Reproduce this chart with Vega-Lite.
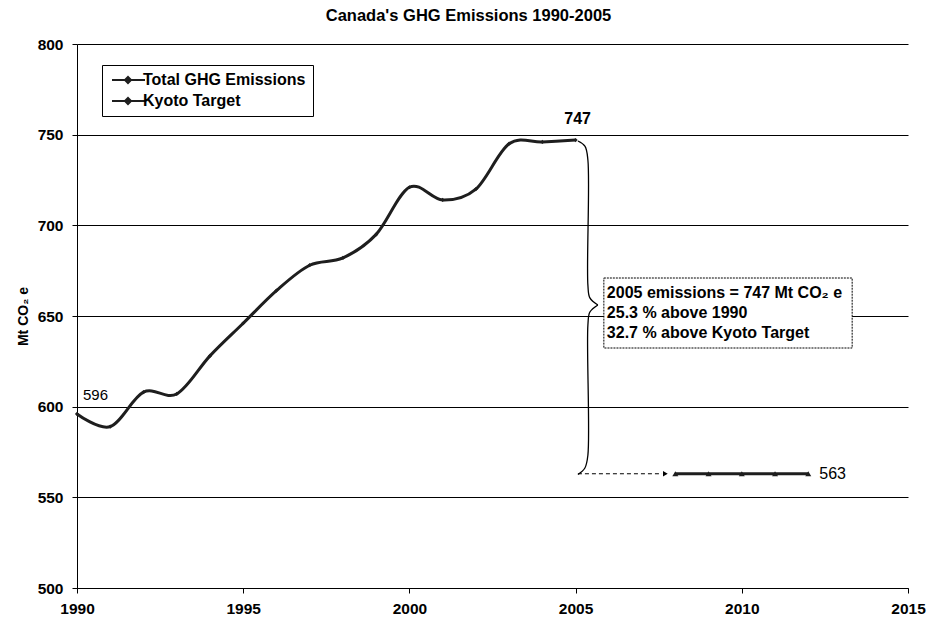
{
  "$schema": "https://vega.github.io/schema/vega-lite/v6.json",
  "width": 831,
  "height": 544,
  "autosize": "none",
  "padding": {"left": 77, "top": 44, "right": 21, "bottom": 33},
  "background": "white",
  "config": {
    "font": "Liberation Sans",
    "view": {"stroke": null},
    "axis": {
      "domainColor": "black",
      "tickColor": "black",
      "gridColor": "black",
      "gridWidth": 1,
      "gridOpacity": 1,
      "labelColor": "black",
      "labelFont": "Liberation Sans",
      "labelFontWeight": "bold",
      "labelFontSize": 15.5,
      "tickSize": 5,
      "titleColor": "black",
      "titleFont": "Liberation Sans"
    }
  },
  "title": {
    "text": "Canada's GHG Emissions 1990-2005",
    "font": "Liberation Sans",
    "fontSize": 16.5,
    "fontWeight": "bold",
    "color": "black",
    "anchor": "middle",
    "dx": -24,
    "offset": 13
  },
  "datasets": {
    "ghg": [
      {"year": 1990, "value": 596, "series": "Total GHG Emissions"},
      {"year": 1991, "value": 589, "series": "Total GHG Emissions"},
      {"year": 1992, "value": 608, "series": "Total GHG Emissions"},
      {"year": 1993, "value": 607, "series": "Total GHG Emissions"},
      {"year": 1994, "value": 628, "series": "Total GHG Emissions"},
      {"year": 1995, "value": 646, "series": "Total GHG Emissions"},
      {"year": 1996, "value": 664, "series": "Total GHG Emissions"},
      {"year": 1997, "value": 678, "series": "Total GHG Emissions"},
      {"year": 1998, "value": 682, "series": "Total GHG Emissions"},
      {"year": 1999, "value": 695, "series": "Total GHG Emissions"},
      {"year": 2000, "value": 721, "series": "Total GHG Emissions"},
      {"year": 2001, "value": 714, "series": "Total GHG Emissions"},
      {"year": 2002, "value": 720, "series": "Total GHG Emissions"},
      {"year": 2003, "value": 745, "series": "Total GHG Emissions"},
      {"year": 2004, "value": 746, "series": "Total GHG Emissions"},
      {"year": 2005, "value": 747, "series": "Total GHG Emissions"},
      {"year": 2008, "value": 563, "series": "Kyoto Target"},
      {"year": 2009, "value": 563, "series": "Kyoto Target"},
      {"year": 2010, "value": 563, "series": "Kyoto Target"},
      {"year": 2011, "value": 563, "series": "Kyoto Target"},
      {"year": 2012, "value": 563, "series": "Kyoto Target"}
    ],
    "brace": [
      {"part": "upper", "idx": 1, "year": 2005.07, "value": 746.5},
      {"part": "upper", "idx": 2, "year": 2005.28, "value": 743.7},
      {"part": "upper", "idx": 3, "year": 2005.37, "value": 736.0},
      {"part": "upper", "idx": 4, "year": 2005.37, "value": 667.0},
      {"part": "upper", "idx": 5, "year": 2005.43, "value": 660.0},
      {"part": "upper", "idx": 6, "year": 2005.67, "value": 656.1},
      {"part": "lower", "idx": 1, "year": 2005.67, "value": 656.1},
      {"part": "lower", "idx": 2, "year": 2005.43, "value": 652.2},
      {"part": "lower", "idx": 3, "year": 2005.37, "value": 645.0},
      {"part": "lower", "idx": 4, "year": 2005.37, "value": 573.3},
      {"part": "lower", "idx": 5, "year": 2005.28, "value": 566.2},
      {"part": "lower", "idx": 6, "year": 2005.07, "value": 562.6}
    ],
    "arrow": [
      {"year": 2005.07, "value": 563},
      {"year": 2007.6, "value": 563}
    ],
    "arrowhead": [
      {"year": 2007.7, "value": 563}
    ],
    "box": [
      {"x1": 2005.85, "x2": 2013.32, "y1": 670.95, "y2": 632.35}
    ],
    "boxtext": [
      {"year": 2005.94, "value": 662.7, "text": "2005 emissions = 747 Mt CO₂ e"},
      {"year": 2005.94, "value": 651.65, "text": "25.3 % above 1990"},
      {"year": 2005.94, "value": 640.6, "text": "32.7 % above Kyoto Target"}
    ]
  },
  "layer": [
    {
      "data": {"name": "ghg"},
      "mark": {"type": "line", "interpolate": "cardinal", "strokeWidth": 3},
      "encoding": {
        "x": {
          "field": "year", "type": "quantitative",
          "scale": {"domain": [1990, 2015], "nice": false, "zero": false},
          "axis": {
            "values": [1990, 1995, 2000, 2005, 2010, 2015],
            "format": "d",
            "grid": false,
            "title": null,
            "labelFlush": false,
            "labelPadding": 8
          }
        },
        "y": {
          "field": "value", "type": "quantitative",
          "scale": {"domain": [500, 800], "nice": false, "zero": false},
          "axis": {
            "values": [500, 550, 600, 650, 700, 750, 800],
            "grid": true,
            "title": "Mt CO₂ e",
            "titleFontSize": 14,
            "titleFontWeight": "bold",
            "titlePadding": 7,
            "labelPadding": 9,
            "labelFlush": false
          }
        },
        "color": {
          "field": "series", "type": "nominal",
          "sort": ["Total GHG Emissions", "Kyoto Target"],
          "scale": {"domain": ["Total GHG Emissions", "Kyoto Target"], "range": ["#1e1e1e", "#1e1e1e"]},
          "legend": {
            "title": null,
            "orient": "none",
            "legendX": 25,
            "legendY": 21,
            "direction": "vertical",
            "strokeColor": "black",
            "fillColor": "white",
            "padding": 7,
            "rowPadding": 5,
            "symbolType": "M-1,0H5.6M1.6,0L2.2,-0.6L2.8,0L2.2,0.6Z",
            "symbolSize": 100,
            "symbolStrokeWidth": 2,
            "symbolStrokeColor": "#1e1e1e",
            "labelOffset": 18,
            "labelFont": "Liberation Sans",
            "labelFontSize": 16,
            "labelFontWeight": "bold",
            "labelColor": "black",
            "labelLimit": 300
          }
        }
      }
    },
    {
      "data": {"name": "ghg"},
      "transform": [{"filter": "datum.series === 'Total GHG Emissions'"}],
      "mark": {"type": "point", "shape": "diamond", "filled": true, "opacity": 1, "color": "#1e1e1e", "size": 18},
      "encoding": {
        "x": {"field": "year", "type": "quantitative"},
        "y": {"field": "value", "type": "quantitative"}
      }
    },
    {
      "data": {"name": "ghg"},
      "transform": [{"filter": "datum.series === 'Kyoto Target'"}],
      "mark": {"type": "point", "shape": "triangle-up", "filled": true, "opacity": 1, "color": "#1e1e1e", "size": 36},
      "encoding": {
        "x": {"field": "year", "type": "quantitative"},
        "y": {"field": "value", "type": "quantitative"}
      }
    },
    {
      "data": {"name": "brace"},
      "mark": {"type": "line", "interpolate": "catmull-rom", "color": "black", "strokeWidth": 1.3},
      "encoding": {
        "x": {"field": "year", "type": "quantitative"},
        "y": {"field": "value", "type": "quantitative"},
        "detail": {"field": "part"},
        "order": {"field": "idx"}
      }
    },
    {
      "data": {"name": "arrow"},
      "mark": {"type": "line", "color": "black", "strokeWidth": 1, "strokeDash": [4, 3]},
      "encoding": {
        "x": {"field": "year", "type": "quantitative"},
        "y": {"field": "value", "type": "quantitative"}
      }
    },
    {
      "data": {"name": "arrowhead"},
      "mark": {"type": "point", "shape": "triangle-right", "filled": true, "color": "black", "opacity": 1, "size": 30},
      "encoding": {
        "x": {"field": "year", "type": "quantitative"},
        "y": {"field": "value", "type": "quantitative"}
      }
    },
    {
      "data": {"name": "box"},
      "mark": {"type": "rect", "fill": "white", "stroke": "black", "strokeWidth": 1, "strokeDash": [2, 1]},
      "encoding": {
        "x": {"field": "x1", "type": "quantitative"},
        "x2": {"field": "x2"},
        "y": {"field": "y1", "type": "quantitative"},
        "y2": {"field": "y2"}
      }
    },
    {
      "data": {"name": "boxtext"},
      "mark": {"type": "text", "align": "left", "baseline": "middle", "font": "Liberation Sans", "fontSize": 16, "fontWeight": "bold", "color": "black"},
      "encoding": {
        "x": {"field": "year", "type": "quantitative"},
        "y": {"field": "value", "type": "quantitative"},
        "text": {"field": "text"}
      }
    },
    {
      "data": {"values": [{"year": 1990, "value": 596, "label": "596"}]},
      "mark": {"type": "text", "align": "left", "baseline": "alphabetic", "dx": 6, "dy": -14, "font": "Liberation Sans", "fontSize": 15, "color": "black"},
      "encoding": {
        "x": {"field": "year", "type": "quantitative"},
        "y": {"field": "value", "type": "quantitative"},
        "text": {"field": "label"}
      }
    },
    {
      "data": {"values": [{"year": 2005, "value": 747, "label": "747"}]},
      "mark": {"type": "text", "align": "center", "baseline": "alphabetic", "dx": 2, "dy": -16, "font": "Liberation Sans", "fontSize": 16, "fontWeight": "bold", "color": "black"},
      "encoding": {
        "x": {"field": "year", "type": "quantitative"},
        "y": {"field": "value", "type": "quantitative"},
        "text": {"field": "label"}
      }
    },
    {
      "data": {"values": [{"year": 2012, "value": 563, "label": "563"}]},
      "mark": {"type": "text", "align": "left", "baseline": "middle", "dx": 11, "font": "Liberation Sans", "fontSize": 16, "color": "black"},
      "encoding": {
        "x": {"field": "year", "type": "quantitative"},
        "y": {"field": "value", "type": "quantitative"},
        "text": {"field": "label"}
      }
    }
  ]
}
